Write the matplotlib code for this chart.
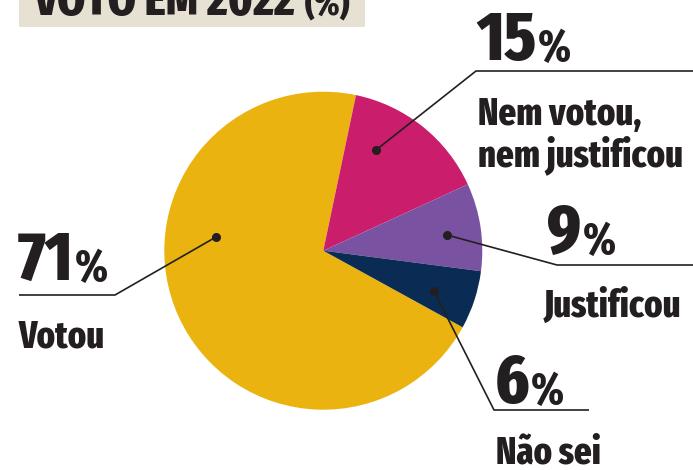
import matplotlib
matplotlib.use("Agg")
import matplotlib.pyplot as plt
from matplotlib.patches import Rectangle

# data
labels = ["Votou", "Nem votou,\nnem justificou", "Justificou", "Não sei"]
values = [71, 15, 9, 6]
colors = ["#EAB30F", "#CA1D6C", "#7A52A2", "#0A2C54"]
title = "VOTO EM 2022"

W, H = 693, 470
INK = "#231F20"
FONT = ["Fira Sans Extra Condensed", "DejaVu Sans"]
WT = 800


def Y(y):
    # image pixel row -> data y
    return H - y


fig = plt.figure(figsize=(W / 100, H / 100), dpi=100)
ax = fig.add_axes([0, 0, 1, 1])

wedges, _ = ax.pie(values, colors=colors, startangle=-28.8, counterclock=False,
                   center=(323.3, Y(250.7)), radius=159, frame=True,
                   wedgeprops=dict(linewidth=0))

# label layout: dot, elbow, line end, number pos, label pos (image pixels)
layout = [
    dict(dot=(216, 237), elbow=(115, 295), end=(19, 295),
         num=(18, 280), lab=(19, 347)),
    dict(dot=(376, 150), elbow=(476, 71), end=(700, 71),
         num=(476, 60), lab=(478, 166)),
    dict(dot=(447, 235), elbow=(557, 265), end=(700, 265),
         num=(547, 253), lab=(544, 317)),
    dict(dot=(434, 291), elbow=(494, 410), end=(589, 410),
         num=(495, 403), lab=(496, 463)),
]

for v, lab, L in zip(values, labels, layout):
    xs = [L["dot"][0], L["elbow"][0], L["end"][0]]
    ys = [Y(L["dot"][1]), Y(L["elbow"][1]), Y(L["end"][1])]
    ax.plot(xs, ys, color=INK, lw=1.2, solid_capstyle="butt")
    ax.plot(xs[0], ys[0], "o", color=INK, ms=5.5)
    t = ax.text(L["num"][0], Y(L["num"][1]), str(v), fontsize=50,
                fontweight=WT, family=FONT, color=INK, va="baseline")
    ax.annotate("%", xy=(1, 0), xycoords=t, xytext=(1, 3),
                textcoords="offset points", fontsize=32, fontweight=WT,
                family=FONT, color=INK, va="bottom", ha="left")
    ax.text(L["lab"][0], Y(L["lab"][1]), lab, fontsize=27, fontweight=WT,
            family=FONT, color=INK, va="baseline", linespacing=1.05)

# title box (cut at the top)
ax.add_patch(Rectangle((19, Y(27)), 346, 40, facecolor="#E6E1D3",
                       edgecolor="none"))
tt = ax.text(34, Y(15), title, fontsize=35, fontweight=WT, family=FONT,
             color=INK, va="baseline")
ax.annotate("(%)", xy=(1, 0), xycoords=tt, xytext=(7, 2.5),
            textcoords="offset points", fontsize=25, fontweight=WT,
            family=FONT, color=INK, va="bottom", ha="left")

ax.set_xlim(0, W)
ax.set_ylim(0, H)
ax.set_aspect("equal")
ax.axis("off")

fig.savefig("out.png", dpi=100)
